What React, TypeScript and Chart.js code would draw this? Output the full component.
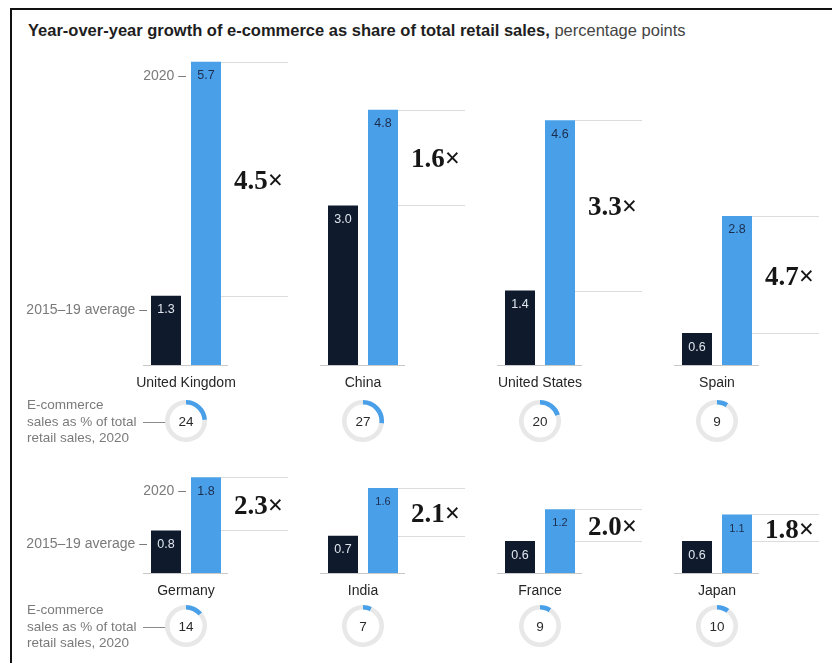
import React, { useEffect, useRef } from "react";
import { Chart, registerables } from "chart.js";

Chart.register(...registerables);

// ---------------- DATA ----------------
const seriesLabels = ["2015–19 average", "2020"];

const countriesTop = ["United Kingdom", "China", "United States", "Spain"];
const avgTop = [1.3, 3.0, 1.4, 0.6];
const y2020Top = [5.7, 4.8, 4.6, 2.8];
const multipliersTop = [4.5, 1.6, 3.3, 4.7];
const shareTop = [24, 27, 20, 9];

const countriesBottom = ["Germany", "India", "France", "Japan"];
const avgBottom = [0.8, 0.7, 0.6, 0.6];
const y2020Bottom = [1.8, 1.6, 1.2, 1.1];
const multipliersBottom = [2.3, 2.1, 2.0, 1.8];
const shareBottom = [14, 7, 9, 10];

const titleBold = "Year-over-year growth of e-commerce as share of total retail sales,";
const titleRest = " percentage points";
const shareNote = ["E-commerce", "sales as % of total", "retail sales, 2020"];

// ---------------- STYLE / LAYOUT ----------------
const DARK = "#0f1b2d";
const BLUE = "#4aa0e8";
const GRID = "#dcdcdc";
const SANS = '"Liberation Sans", Arial, sans-serif';
const SERIF = '"Liberation Serif", "DejaVu Serif", serif';
const PX_PER_UNIT = 53.2;
const PAGE_W = 832;
const PLOT_LEFT = 97.5;
const PLOT_RIGHT = 805.5;

type Row = {
  labels: string[];
  avg: number[];
  cur: number[];
  mult: number[];
  share: number[];
  top: number;
  height: number;
  baseline: number;
  yMax: number;
  noteMid: number;
  donutY: number;
};

const rows: Row[] = [
  {
    labels: countriesTop, avg: avgTop, cur: y2020Top, mult: multipliersTop, share: shareTop,
    top: 40, height: 420, baseline: 365, yMax: 6, noteMid: 422, donutY: 421,
  },
  {
    labels: countriesBottom, avg: avgBottom, cur: y2020Bottom, mult: multipliersBottom, share: shareBottom,
    top: 460, height: 203, baseline: 573, yMax: 2, noteMid: 627, donutY: 626,
  },
];

function decorPlugin(row: Row) {
  return {
    id: "rowDecor",
    beforeDatasetsDraw(chart: any) {
      const ctx = chart.ctx;
      const ys = chart.scales.y;
      const m0 = chart.getDatasetMeta(0);
      const m1 = chart.getDatasetMeta(1);
      ctx.save();
      ctx.lineWidth = 1;
      row.labels.forEach((_, i) => {
        const d = m0.data[i].getProps(["x", "y", "width"], true);
        const b = m1.data[i].getProps(["x", "y", "width"], true);
        const c = (d.x + b.x) / 2;
        const blueRight = b.x + b.width / 2;
        ctx.strokeStyle = GRID;
        [d.y, b.y].forEach((yy: number) => {
          const y = Math.round(yy) + 0.5;
          ctx.beginPath();
          ctx.moveTo(blueRight, y);
          ctx.lineTo(c + 102, y);
          ctx.stroke();
        });
        const y0 = Math.round(ys.getPixelForValue(0)) + 0.5;
        ctx.strokeStyle = "#c9c9c9";
        ctx.beginPath();
        ctx.moveTo(c - 43, y0);
        ctx.lineTo(c + 42, y0);
        ctx.stroke();
      });
      ctx.restore();
    },
    afterDatasetsDraw(chart: any) {
      const ctx = chart.ctx;
      const ys = chart.scales.y;
      const m0 = chart.getDatasetMeta(0);
      const m1 = chart.getDatasetMeta(1);
      const y0 = ys.getPixelForValue(0);
      ctx.save();
      row.labels.forEach((name, i) => {
        const d = m0.data[i].getProps(["x", "y", "width"], true);
        const b = m1.data[i].getProps(["x", "y", "width"], true);
        const c = (d.x + b.x) / 2;
        // value labels inside bars
        ctx.textBaseline = "middle";
        ctx.textAlign = "center";
        ctx.font = `12.5px ${SANS}`;
        ctx.fillStyle = "#dfe6ee";
        ctx.fillText(row.avg[i].toFixed(1), d.x, d.y + 14);
        ctx.fillStyle = "#1b2d4f";
        ctx.font = `${row.cur[i] < 1.7 ? 11 : 12.5}px ${SANS}`;
        ctx.fillText(row.cur[i].toFixed(1), b.x, b.y + 14);
        // multiplier
        ctx.textAlign = "left";
        ctx.font = `bold 27px ${SERIF}`;
        ctx.fillStyle = "#161616";
        ctx.fillText(row.mult[i].toFixed(1) + "×", b.x + b.width / 2 + 13, (d.y + b.y) / 2 + 3);
        // country name
        ctx.textAlign = "center";
        ctx.font = `14px ${SANS}`;
        ctx.fillStyle = "#262626";
        ctx.fillText(name, c, y0 + 18);
        if (i === 0) {
          ctx.textAlign = "right";
          ctx.font = `14px ${SANS}`;
          ctx.fillStyle = "#7a7a7a";
          ctx.fillText(seriesLabels[1] + " –", b.x - b.width / 2 - 5, b.y + 14);
          ctx.fillText(seriesLabels[0] + " –", d.x - d.width / 2 - 4, d.y + 14);
          // share note
          const noteY = row.noteMid - row.top;
          ctx.textAlign = "left";
          ctx.font = `13.5px ${SANS}`;
          shareNote.forEach((t, k) => {
            ctx.fillText(t, 27, noteY + (k - 1) * 16.5);
          });
          ctx.strokeStyle = "#8a8a8a";
          ctx.lineWidth = 1;
          ctx.beginPath();
          ctx.moveTo(143, Math.round(noteY) + 0.5);
          ctx.lineTo(169, Math.round(noteY) + 0.5);
          ctx.stroke();
        }
      });
      ctx.restore();
    },
  };
}

function BarRow({ row }: { row: Row }) {
  const ref = useRef<HTMLCanvasElement | null>(null);
  useEffect(() => {
    if (!ref.current) return;
    const baseRel = row.baseline - row.top;
    const chart = new Chart(ref.current, {
      type: "bar",
      data: {
        labels: row.labels,
        datasets: [
          { label: seriesLabels[0], data: row.avg, backgroundColor: DARK, borderWidth: 0 },
          { label: seriesLabels[1], data: row.cur, backgroundColor: BLUE, borderWidth: 0 },
        ],
      },
      options: {
        responsive: false,
        animation: false,
        barPercentage: 0.75,
        categoryPercentage: 80 / 177,
        layout: {
          padding: {
            left: PLOT_LEFT,
            right: PAGE_W - PLOT_RIGHT,
            top: baseRel - row.yMax * PX_PER_UNIT,
            bottom: row.height - baseRel,
          },
        },
        scales: {
          x: { display: false },
          y: { display: false, min: 0, max: row.yMax },
        },
        plugins: { legend: { display: false }, tooltip: { enabled: false } },
      } as any,
      plugins: [decorPlugin(row)],
    });
    return () => chart.destroy();
  }, [row]);
  return (
    <canvas
      ref={ref}
      width={PAGE_W}
      height={row.height}
      style={{ position: "absolute", left: 0, top: row.top, width: PAGE_W, height: row.height }}
    />
  );
}

function Donut({ value, cx, cy }: { value: number; cx: number; cy: number }) {
  const ref = useRef<HTMLCanvasElement | null>(null);
  useEffect(() => {
    if (!ref.current) return;
    const chart = new Chart(ref.current, {
      type: "doughnut",
      data: {
        labels: ["e-commerce", "other"],
        datasets: [{ data: [value, 100 - value], backgroundColor: [BLUE, "#e8e8e8"], borderWidth: 0 }],
      },
      options: {
        responsive: false,
        animation: false,
        cutout: "78%",
        plugins: { legend: { display: false }, tooltip: { enabled: false } },
      } as any,
      plugins: [
        {
          id: "centerText",
          afterDraw(c: any) {
            const ctx = c.ctx;
            const a = c.chartArea;
            ctx.save();
            ctx.font = `13.5px ${SANS}`;
            ctx.fillStyle = "#2a2a2a";
            ctx.textAlign = "center";
            ctx.textBaseline = "middle";
            ctx.fillText(String(value), (a.left + a.right) / 2, (a.top + a.bottom) / 2 + 1);
            ctx.restore();
          },
        },
      ],
    });
    return () => chart.destroy();
  }, [value]);
  return (
    <canvas
      ref={ref}
      width={42}
      height={42}
      style={{ position: "absolute", left: cx - 21, top: cy - 21, width: 42, height: 42 }}
    />
  );
}

export default function App() {
  return (
    <div
      style={{
        position: "absolute",
        left: 0,
        top: 0,
        width: PAGE_W,
        height: 663,
        background: "#fff",
        overflow: "hidden",
        fontFamily: SANS,
      }}
    >
      <div
        style={{
          position: "absolute",
          left: 10,
          top: 8,
          width: PAGE_W,
          height: 700,
          borderTop: "2px solid #111",
          borderLeft: "2px solid #111",
        }}
      />
      <div
        style={{
          position: "absolute",
          left: 28,
          top: 21,
          fontSize: 16.5,
          lineHeight: "18px",
          whiteSpace: "nowrap",
          color: "#1e1e1e",
        }}
      >
        <span style={{ fontWeight: "bold" }}>{titleBold}</span>
        <span style={{ color: "#444" }}>{titleRest}</span>
      </div>
      {rows.map((r, k) => (
        <BarRow key={k} row={r} />
      ))}
      {rows.map((r, k) =>
        r.share.map((s, i) => (
          <Donut
            key={`${k}-${i}`}
            value={s}
            cx={PLOT_LEFT + ((PLOT_RIGHT - PLOT_LEFT) / r.labels.length) * (i + 0.5)}
            cy={r.donutY}
          />
        ))
      )}
    </div>
  );
}
